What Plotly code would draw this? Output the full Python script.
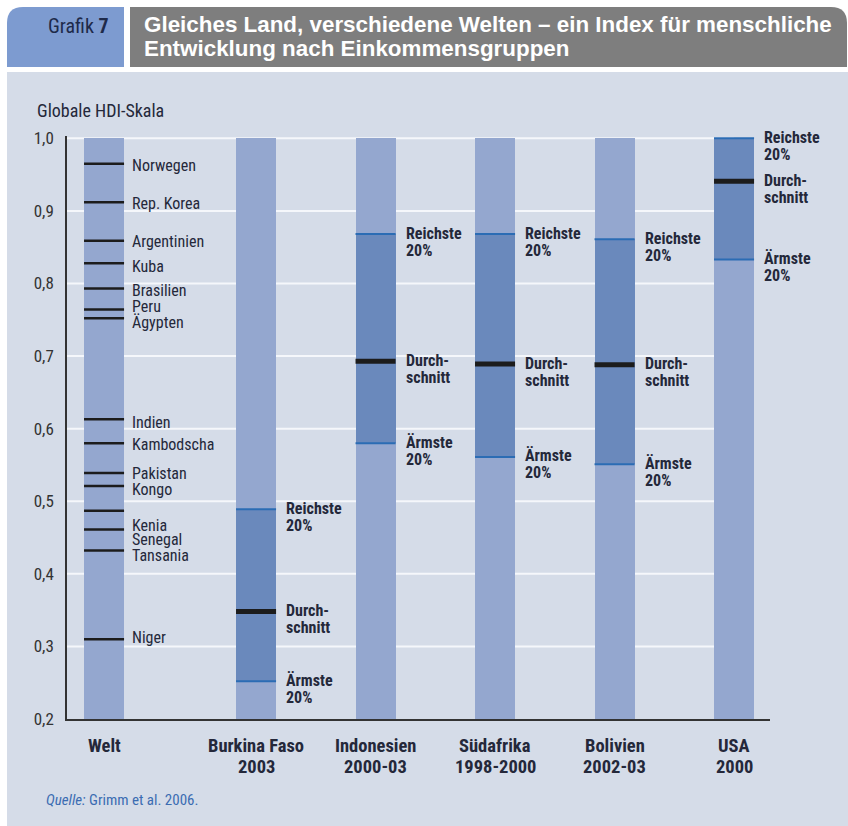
import plotly.graph_objects as go

# ---------------- data ----------------
groups = ["Welt", "Burkina Faso<br>2003", "Indonesien<br>2000-03", "Südafrika<br>1998-2000",
          "Bolivien<br>2002-03", "USA<br>2000"]
group_x = [-1.272, 0, 1, 2, 3, 4]   # layout positions of the columns

welt_countries = ["Norwegen", "Rep. Korea", "Argentinien", "Kuba", "Brasilien", "Peru", "Ägypten",
                  "Indien", "Kambodscha", "Pakistan", "Kongo", "Kenia", "Senegal", "Tansania", "Niger"]
welt_hdi = [0.965, 0.912, 0.859, 0.828, 0.793, 0.764, 0.752,
            0.613, 0.580, 0.539, 0.521, 0.487, 0.461, 0.432, 0.310]

sub_groups = ["Burkina Faso", "Indonesien", "Südafrika", "Bolivien", "USA"]
reichste = [0.489, 0.868, 0.868, 0.861, 1.000]
durchschnitt = [0.348, 0.693, 0.689, 0.688, 0.941]
aermste = [0.252, 0.580, 0.561, 0.551, 0.833]

y_ticks = [0.2, 0.3, 0.4, 0.5, 0.6, 0.7, 0.8, 0.9, 1.0]
y_ticktext = ["0,2", "0,3", "0,4", "0,5", "0,6", "0,7", "0,8", "0,9", "1,0"]

# ---------------- styling ----------------
W, H = 848, 826
L, R, T, B = 67, 770, 136, 719
XMIN = -1.582
XMAX = XMIN + (R - L) / 119.5
YMIN, YMAX = 0.2, 1.0 + (138.3 - T) / ((B - 138.3) / 0.8)
BW = 0.335  # column width in x units

PANEL = "#d5dce8"
COL_LIGHT = "#94a7cf"
COL_DARK = "#6a89bc"
LINE_BLUE = "#2b6cb4"
BLACK = "#1c1c1c"
TXT = "#24283a"
FONT = "Liberation Sans Narrow, Arial Narrow, Roboto Condensed, DejaVu Sans Condensed, sans-serif"
FONT_W = "Liberation Sans, Arial, sans-serif"

label_shift_px = [-2, -1, -1, -3, -2, 3, -4, -3, -1, -1, -4, -15, -10, -5, 2]


def px(x, y):
    return (x - L) / (R - L), (B - y) / (B - T)


def rounded_path(x0, y0, x1, y1, r_tl=0, r_tr=0, r_br=0, r_bl=0):
    def P(x, y):
        a, b = px(x, y)
        return f"{a:.5f},{b:.5f}"
    d = f"M {P(x0 + r_tl, y0)} L {P(x1 - r_tr, y0)} Q {P(x1, y0)} {P(x1, y0 + r_tr)} "
    d += f"L {P(x1, y1 - r_br)} Q {P(x1, y1)} {P(x1 - r_br, y1)} "
    d += f"L {P(x0 + r_bl, y1)} Q {P(x0, y1)} {P(x0, y1 - r_bl)} "
    d += f"L {P(x0, y0 + r_tl)} Q {P(x0, y0)} {P(x0 + r_tl, y0)} Z"
    return d


fig = go.Figure()

# full columns
fig.add_trace(go.Bar(x=group_x, y=[0.8] * len(group_x), base=0.2, width=BW,
                     marker=dict(color=COL_LIGHT, line=dict(width=0)), hoverinfo="skip"))
# dark bands between poorest and richest
sub_x = group_x[1:]
fig.add_trace(go.Bar(x=sub_x, y=[r - a for r, a in zip(reichste, aermste)], base=aermste, width=BW,
                     marker=dict(color=COL_DARK, line=dict(width=0)), hoverinfo="skip"))


def seg_lines(xs, ys):
    lx, ly = [], []
    for x, y in zip(xs, ys):
        lx += [x - BW / 2, x + BW / 2, None]
        ly += [y, y, None]
    return lx, ly


wx, wy = seg_lines([group_x[0]] * len(welt_hdi), welt_hdi)
fig.add_trace(go.Scatter(x=wx, y=wy, mode="lines", line=dict(color=BLACK, width=2.5), hoverinfo="skip"))
for vals, col, wd in [(reichste, LINE_BLUE, 2), (aermste, LINE_BLUE, 2), (durchschnitt, BLACK, 5)]:
    lx, ly = seg_lines(sub_x, vals)
    fig.add_trace(go.Scatter(x=lx, y=ly, mode="lines", line=dict(color=col, width=wd), hoverinfo="skip"))

shapes = []
annotations = []

# panel background
shapes.append(dict(type="path", xref="paper", yref="paper", layer="below",
                   path=rounded_path(7, 72, 870, 850, r_bl=16), fillcolor=PANEL, line=dict(width=0)))
# header boxes
shapes.append(dict(type="path", xref="paper", yref="paper", layer="below",
                   path=rounded_path(7, 7, 124, 67, r_tl=16), fillcolor="#7d9bd0", line=dict(width=0)))
shapes.append(dict(type="path", xref="paper", yref="paper", layer="below",
                   path=rounded_path(130, 7, 847, 67, r_tr=16), fillcolor="#7e7e7e", line=dict(width=0)))
# gridlines (end at last column)
for v in y_ticks[1:]:
    shapes.append(dict(type="line", xref="x", yref="y", layer="below", x0=XMIN, x1=group_x[-1], y0=v, y1=v,
                       line=dict(color="#f5f7fb", width=2)))

# header text
gx, gy = px(111, 26)
annotations.append(dict(xref="paper", yref="paper", x=gx, y=gy, xanchor="right", yanchor="middle",
                        text="Grafik <b>7</b>", showarrow=False, font=dict(family=FONT, size=20, color="#1e2a4a")))
for i, line in enumerate(["Gleiches Land, verschiedene Welten – ein Index für menschliche",
                          "Entwicklung nach Einkommensgruppen"]):
    tx, ty = px(142, 25 + 23 * i)
    annotations.append(dict(xref="paper", yref="paper", x=tx, y=ty, xanchor="left", yanchor="middle",
                            text=f"<b>{line}</b>", showarrow=False, font=dict(family=FONT_W, size=22.4, color="white")))

# axis title
tx, ty = px(35, 110)
annotations.append(dict(xref="paper", yref="paper", x=tx, y=ty, xanchor="left", yanchor="middle",
                        text="Globale HDI-Skala", showarrow=False, font=dict(family=FONT, size=18, color=TXT)))

# Welt country labels
for name, v, s in zip(welt_countries, welt_hdi, label_shift_px):
    annotations.append(dict(xref="x", yref="y", x=group_x[0] + BW / 2, y=v, xanchor="left", yanchor="middle",
                            xshift=6, yshift=s, text=name, showarrow=False,
                            font=dict(family=FONT, size=16, color=TXT)))

# group labels
for i, gxv in enumerate(sub_x):
    for val, lines in [(reichste[i], ["Reichste", "20%"]), (durchschnitt[i], ["Durch-", "schnitt"]),
                       (aermste[i], ["Ärmste", "20%"])]:
        for k, t in enumerate(lines):
            annotations.append(dict(xref="x", yref="y", x=gxv + BW / 2, y=val, xanchor="left", yanchor="middle",
                                    xshift=8, yshift=1 - 17 * k, text=f"<b>{t}</b>", showarrow=False,
                                    font=dict(family=FONT, size=16, color=TXT)))

# category labels
for gname, gxv in zip(groups, group_x):
    for k, t in enumerate(gname.split("<br>")):
        annotations.append(dict(xref="x", yref="paper", x=gxv, y=0, xanchor="center", yanchor="middle",
                                yshift=-(746 - B) - 21 * k, text=f"<b>{t}</b>", showarrow=False,
                                font=dict(family=FONT, size=18.5, color=TXT)))

# source
sx, sy = px(44, 800)
annotations.append(dict(xref="paper", yref="paper", x=sx, y=sy, xanchor="left", yanchor="middle",
                        text="<i>Quelle:</i> Grimm et al. 2006.", showarrow=False,
                        font=dict(family=FONT, size=15, color="#3b6cb2")))

fig.update_layout(
    width=W, height=H,
    margin=dict(l=L, r=W - R, t=T, b=H - B, pad=0),
    paper_bgcolor="white", plot_bgcolor="rgba(0,0,0,0)",
    showlegend=False, barmode="overlay", bargap=0,
    shapes=shapes, annotations=annotations,
    xaxis=dict(range=[XMIN, XMAX], showgrid=False, zeroline=False, showticklabels=False, ticks="",
               showline=True, linecolor="#333333", linewidth=1.5, fixedrange=True),
    yaxis=dict(range=[YMIN, YMAX], showgrid=False, zeroline=False, tickvals=y_ticks, ticktext=y_ticktext,
               ticks="outside", ticklen=8, tickcolor="rgba(0,0,0,0)",
               tickfont=dict(family=FONT, size=17, color="#333333"),
               showline=True, linecolor="#333333", linewidth=1.5, fixedrange=True),
)

fig.write_html("out.html", config={"displayModeBar": False},
               post_script="document.body.style.margin='0';document.body.style.overflow='hidden';")
